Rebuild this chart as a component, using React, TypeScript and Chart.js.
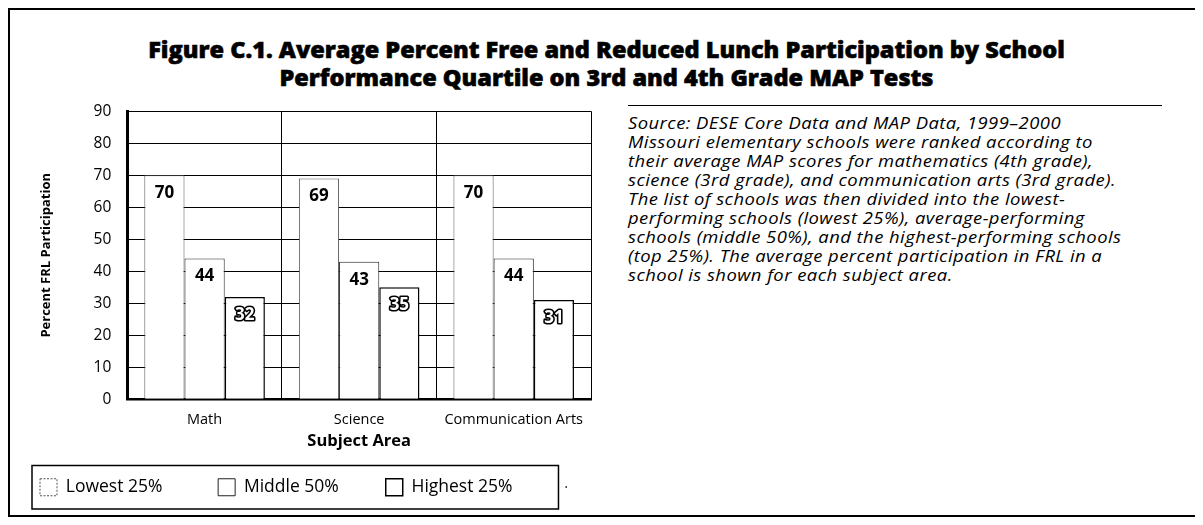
import React, { useEffect, useRef } from "react";
import { Chart, registerables } from "chart.js";

Chart.register(...registerables);

// ---------- data ----------
const categories = ["Math", "Science", "Communication Arts"];
const seriesNames = ["Lowest 25%", "Middle 50%", "Highest 25%"];
const lowest = [70, 69, 70];
const middle = [44, 43, 44];
const highest = [32, 35, 31];
const yMin = 0;
const yMax = 90;
const yStep = 10;

const titleLines = [
  "Figure C.1. Average Percent Free and Reduced Lunch Participation by School",
  "Performance Quartile on 3rd and 4th Grade MAP Tests",
];
const xAxisTitle = "Subject Area";
const yAxisTitle = "Percent FRL Participation";
const noteLines = [
  "Source: DESE Core Data and MAP Data, 1999–2000",
  "Missouri elementary schools were ranked according to",
  "their average MAP scores for mathematics (4th grade),",
  "science (3rd grade), and communication arts (3rd grade).",
  "The list of schools was then divided into the lowest-",
  "performing schools (lowest 25%), average-performing",
  "schools (middle 50%), and the highest-performing schools",
  "(top 25%). The average percent participation in FRL in a",
  "school is shown for each subject area.",
];

const FONT = '"Open Sans", "DejaVu Sans", sans-serif';

const valueLabels = {
  id: "valueLabels",
  afterDatasetsDraw(chart: any) {
    const ctx = chart.ctx;
    chart.data.datasets.forEach((ds: any, di: number) => {
      const meta = chart.getDatasetMeta(di);
      meta.data.forEach((bar: any, i: number) => {
        const txt = String(ds.data[i]);
        ctx.save();
        ctx.font = `bold 17px ${FONT}`;
        ctx.textAlign = "center";
        ctx.textBaseline = "middle";
        const y = bar.y + 18;
        if (di === 2) {
          ctx.lineJoin = "round";
          ctx.strokeStyle = "#000";
          ctx.lineWidth = 3.2;
          ctx.strokeText(txt, bar.x, y);
          ctx.fillStyle = "#fff";
          ctx.fillText(txt, bar.x, y);
        } else {
          ctx.fillStyle = "#000";
          ctx.fillText(txt, bar.x, y);
        }
        ctx.restore();
      });
    });
  },
};

const legendFrame = {
  id: "legendFrame",
  afterDraw(chart: any) {
    const lg = chart.legend;
    if (!lg || !lg.legendHitBoxes || !lg.legendHitBoxes.length) return;
    const hb = lg.legendHitBoxes;
    const left = Math.min(...hb.map((b: any) => b.left)) - 8;
    const right = Math.max(...hb.map((b: any) => b.left + b.width)) + 46;
    const top = Math.min(...hb.map((b: any) => b.top)) - 13;
    const bottom = Math.max(...hb.map((b: any) => b.top + b.height)) + 13;
    const ctx = chart.ctx;
    ctx.save();
    ctx.strokeStyle = "#000";
    ctx.lineWidth = 1.5;
    ctx.strokeRect(left, top, right - left, bottom - top);
    ctx.fillStyle = "#000";
    ctx.fillRect(right + 7, (top + bottom) / 2 - 1, 1.5, 1.5);
    ctx.restore();
  },
};

function FrlChart() {
  const ref = useRef<HTMLCanvasElement | null>(null);
  useEffect(() => {
    if (!ref.current) return;
    const mk = (label: string, data: number[], color: string, w: number) => ({
      label,
      data,
      backgroundColor: "#ffffff",
      borderColor: color,
      borderWidth: { top: w, left: w, right: w, bottom: 0 },
      borderSkipped: "bottom",
      categoryPercentage: 0.78,
      barPercentage: 1,
    });
    const chart = new Chart(ref.current, {
      type: "bar",
      data: {
        labels: categories,
        datasets: [
          mk(seriesNames[0], lowest, "#555", 1),
          mk(seriesNames[1], middle, "#222", 1),
          mk(seriesNames[2], highest, "#000", 1.5),
        ],
      },
      options: {
        animation: false,
        responsive: false,
        maintainAspectRatio: false,
        layout: { padding: { left: 18, right: 9, top: 10, bottom: 6 } },
        scales: {
          x: {
            grid: { color: "#000", lineWidth: 1, drawTicks: false, offset: true },
            border: { color: "#000", width: 2.5 },
            ticks: { color: "#000", font: { family: FONT, size: 14.5 }, padding: 12 },
            title: {
              display: true,
              text: xAxisTitle,
              color: "#000",
              font: { family: FONT, size: 16.5, weight: "bold" },
              padding: { top: -9, bottom: 15 },
            },
          },
          y: {
            min: yMin,
            max: yMax,
            ticks: { stepSize: yStep, color: "#000", font: { family: FONT, size: 15.5 }, padding: 16 },
            grid: { color: "#000", lineWidth: 1, drawTicks: false },
            border: { color: "#000", width: 3 },
            title: {
              display: true,
              text: yAxisTitle,
              color: "#000",
              font: { family: FONT, size: 13, weight: "bold" },
              padding: { top: 10, bottom: 24 },
            },
          },
        },
        plugins: {
          tooltip: { enabled: false },
          legend: {
            position: "bottom",
            align: "start",
            labels: {
              boxWidth: 17,
              boxHeight: 17,
              color: "#000",
              font: { family: FONT, size: 17.5 },
              padding: 12,
              generateLabels: (c: any) => {
                const items = Chart.defaults.plugins.legend.labels.generateLabels(c);
                const pads = ["\u2003\u2003\u2002", "\u2003\u2003", ""];
                return items.map((it: any, i: number) => ({
                  ...it,
                  fillStyle: "#fff",
                  lineWidth: i === 2 ? 1.5 : 1,
                  lineDash: i === 0 ? [2, 1.5] : [],
                  text: it.text + pads[i],
                }));
              },
            },
          },
        },
      },
      plugins: [valueLabels, legendFrame],
    } as any);
    return () => chart.destroy();
  }, []);
  return <canvas ref={ref} width={590} height={426} style={{ display: "block" }} />;
}

export default function App() {
  return (
    <div
      style={{
        position: "relative",
        width: 1195,
        height: 505,
        borderTop: "2px solid #000",
        borderLeft: "2px solid #000",
        borderBottom: "2px solid #000",
        boxSizing: "content-box",
        fontFamily: FONT,
        color: "#000",
        overflow: "hidden",
      }}
    >
      {titleLines.map((t, i) => (
        <div
          key={i}
          style={{
            position: "absolute",
            left: 0,
            width: 1193,
            top: 24 + i * 28,
            textAlign: "center",
            fontSize: 23.5,
            fontWeight: 800,
            lineHeight: "30px",
            whiteSpace: "nowrap",
            WebkitTextStroke: "0.6px #000",
          }}
        >
          {t}
        </div>
      ))}
      <div
        style={{
          position: "absolute",
          left: 618,
          top: 95,
          width: 534,
          borderTop: "1.5px solid #000",
        }}
      />
      <div
        style={{
          position: "absolute",
          left: 618,
          top: 104,
          transform: "scaleX(1.15)",
          transformOrigin: "left top",
        }}
      >
        {noteLines.map((t, i) => (
          <div
            key={i}
            style={{
              fontStyle: "italic",
              fontSize: 16,
              lineHeight: "19px",
              letterSpacing: "0.4px",
              whiteSpace: "nowrap",
            }}
          >
            {t}
          </div>
        ))}
      </div>
      <div style={{ position: "absolute", left: 0, top: 76 }}>
        <FrlChart />
      </div>
    </div>
  );
}
